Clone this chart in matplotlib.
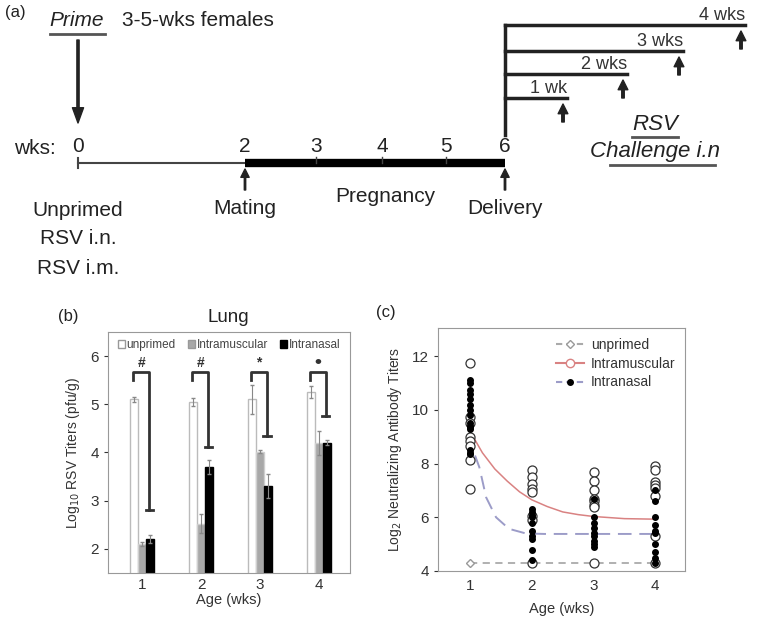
import matplotlib
matplotlib.use('Agg')
import matplotlib.pyplot as plt
from matplotlib.lines import Line2D
from matplotlib.patches import Patch
import numpy as np

plt.rcParams['font.family'] = ['Liberation Sans', 'DejaVu Sans']

# ── data ──────────────────────────────────────────────────────────
# (a) timeline
week_labels = ['0', '2', '3', '4', '5', '6']
challenge_labels = ['1 wk', '2 wks', '3 wks', '4 wks']
prime_groups = ['Unprimed', 'RSV i.n.', 'RSV i.m.']

# (b) lung RSV titers
ages = [1, 2, 3, 4]
lung_unprimed = [5.10, 5.05, 5.10, 5.25]
lung_unprimed_err = [0.05, 0.08, 0.30, 0.12]
lung_im = [2.10, 2.52, 4.02, 4.20]
lung_im_err = [0.05, 0.20, 0.03, 0.25]
lung_in = [2.20, 3.70, 3.30, 4.20]
lung_in_err = [0.08, 0.15, 0.25, 0.05]
sig_marks = ['#', '#', '*', '•']
sig_low = [2.80, 4.12, 4.34, 4.76]

# (c) neutralizing antibody titers
im_pts = {
    1: [11.75, 9.75, 9.5, 9.0, 8.85, 8.65, 8.15, 7.05],
    2: [7.75, 7.5, 7.25, 7.05, 6.95, 6.05, 5.9, 4.3],
    3: [7.7, 7.35, 7.0, 6.7, 6.6, 6.45, 6.4, 4.3],
    4: [7.9, 7.75, 7.3, 7.2, 7.1, 6.8, 5.3, 4.3],
}
in_pts = {
    1: [11.1, 11.0, 10.75, 10.6, 10.4, 10.2, 10.0, 9.8, 9.5, 9.4, 9.35, 9.3, 8.5, 8.4, 8.35],
    2: [6.3, 6.2, 6.1, 6.0, 5.8, 5.5, 5.3, 5.2, 4.8, 4.4],
    3: [6.7, 6.0, 5.8, 5.6, 5.4, 5.3, 5.1, 5.0, 4.9],
    4: [7.0, 6.6, 6.0, 5.7, 5.5, 5.4, 5.0, 4.7, 4.5, 4.3],
}
unprimed_nab = [4.3, 4.3, 4.3, 4.3]
im_fit_x = [1.05, 1.2, 1.4, 1.6, 1.8, 2.0, 2.25, 2.5, 2.75, 3.0, 3.5, 4.0]
im_fit_y = [9.0, 8.4, 7.8, 7.35, 6.95, 6.65, 6.4, 6.2, 6.1, 6.03, 5.95, 5.93]
in_fit_x = [1.08, 1.15, 1.26, 1.42, 1.63, 1.9, 2.2, 2.6, 3.0, 3.5, 4.0]
in_fit_y = [8.3, 7.86, 6.74, 6.0, 5.57, 5.4, 5.38, 5.38, 5.38, 5.38, 5.38]

# ── figure ────────────────────────────────────────────────────────
fig = plt.figure(figsize=(7.6, 6.26), dpi=100, facecolor='white')
ink = '#222222'


def arrow(ax, x0, y0, x1, y1, width=2.0, head_w=8, head_l=8):
    ax.annotate('', xy=(x1, y1), xytext=(x0, y0),
                arrowprops=dict(width=width, headwidth=head_w, headlength=head_l,
                                facecolor=ink, edgecolor=ink, shrink=0))


# (a) schematic, drawn in pixel coordinates
axa = fig.add_axes([0, 0, 1, 1])
axa.set_xlim(0, 760)
axa.set_ylim(626, 0)
axa.axis('off')

wk_x = [78, 245, 316, 382, 446, 505]
tl_y = 163
axa.text(5, 13, '(a)', fontsize=12, color=ink, va='center')
axa.text(77, 20, 'Prime', fontsize=15, style='italic', color=ink, ha='center', va='center')
axa.plot([50, 105], [34, 34], color='#555555', lw=2)
axa.text(122, 20, '3-5-wks females', fontsize=15, color=ink, va='center')
arrow(axa, wk_x[0], 40, wk_x[0], 123, width=1.6, head_w=8, head_l=11)

axa.text(14, 148, 'wks:', fontsize=15, color=ink, va='center')
for lab, x in zip(week_labels, wk_x):
    axa.text(x, 147, lab, fontsize=15, color=ink, ha='center', va='center')
axa.plot([wk_x[0], wk_x[1]], [tl_y, tl_y], color='#444444', lw=1.5)
axa.plot([wk_x[0], wk_x[0]], [tl_y - 5, tl_y + 5], color='#444444', lw=1.5)
axa.plot([wk_x[1], wk_x[5]], [tl_y, tl_y], color='black', lw=6, solid_capstyle='butt')
for x in wk_x[2:5]:
    axa.plot([x, x], [tl_y - 6, tl_y], color='#444444', lw=1)

for x, lab in [(wk_x[1], 'Mating'), (wk_x[5], 'Delivery')]:
    arrow(axa, x, 190, x, 169, width=1.0, head_w=6, head_l=6)
    axa.text(x, 209, lab, fontsize=15, color=ink, ha='center', va='center')
axa.text(385, 197, 'Pregnancy', fontsize=15, color=ink, ha='center', va='center')
for i, g in enumerate(prime_groups):
    axa.text(wk_x[0], 210 + 29 * i, g, fontsize=15, color=ink, ha='center', va='center')

# challenge branches
br_y = [98, 74, 51, 25]
br_end = [567, 627, 683, 745]
axa.plot([wk_x[5], wk_x[5]], [br_y[-1], 135], color=ink, lw=2.5)
for lab, y, xe in zip(challenge_labels, br_y, br_end):
    axa.plot([wk_x[5], xe], [y, y], color=ink, lw=2.5)
    axa.text(xe, y - 1, lab, fontsize=13, color='#333333', ha='right', va='bottom')
    arrow(axa, xe - 4, y + 24, xe - 4, y + 6, width=1.8, head_w=7, head_l=7)
axa.text(655, 124, 'RSV', fontsize=16, style='italic', color=ink, ha='center', va='center')
axa.plot([632, 678], [137, 137], color='#555555', lw=2)
axa.text(655, 151, 'Challenge i.n', fontsize=16, style='italic', color=ink, ha='center', va='center')
axa.plot([610, 715], [165, 165], color='#555555', lw=2)

axa.text(68, 316, '(b)', fontsize=12, color=ink, ha='center', va='center')
axa.text(228, 318, 'Lung', fontsize=13.5, color=ink, ha='center', va='center')
axa.text(386, 313, '(c)', fontsize=12, color=ink, ha='center', va='center')

# (b) lung titers
axb = fig.add_axes([108 / 760, 53 / 626, 242 / 760, 241 / 626])
x = np.array(ages, dtype=float)
w = 0.135
kw = dict(ecolor='#888888', capsize=1.5, error_kw=dict(lw=0.8))
axb.bar(x - 0.14, lung_unprimed, w, yerr=lung_unprimed_err,
        color='white', edgecolor='#bbbbbb', lw=1, **kw)
axb.bar(x, lung_im, w, yerr=lung_im_err, color='#a8a8a8', edgecolor='#cfcfcf', lw=1, **kw)
axb.bar(x + 0.14, lung_in, w, yerr=lung_in_err, color='black', edgecolor='black', lw=1, **kw)
for xi, lo, mk in zip(x, sig_low, sig_marks):
    xl, xr = xi - 0.15, xi + 0.12
    axb.plot([xl, xl, xr, xr], [5.5, 5.67, 5.67, lo], color='#333333', lw=2)
    axb.plot([xr - 0.06, xr + 0.06], [lo, lo], color='#333333', lw=2)
    axb.text((xl + xr) / 2, 5.86, mk, fontsize=10 if mk != '•' else 14, color='#333333',
             ha='center', va='center', fontweight='bold')
axb.set_xlim(0.42, 4.53)
axb.set_ylim(1.5, 6.5)
axb.set_yticks([2, 3, 4, 5, 6])
axb.set_xticks(ages)
axb.tick_params(labelsize=11, colors='#333333', length=3, direction='out')
axb.tick_params(axis='x', length=0)
for s in axb.spines.values():
    s.set_color('#999999')
axb.set_ylabel('Log$_{10}$ RSV Titers (pfu/g)', fontsize=10, color='#333333', labelpad=6)
axb.set_xlabel('Age (wks)', fontsize=10.5, color='#333333', labelpad=1)
hb = [Patch(facecolor='white', edgecolor='#999999', label='unprimed'),
      Patch(facecolor='#a8a8a8', edgecolor='#999999', label='Intramuscular'),
      Patch(facecolor='black', edgecolor='black', label='Intranasal')]
axb.legend(handles=hb, ncol=3, loc='upper center', frameon=False, fontsize=8.5,
           handlelength=0.6, handleheight=0.6, handletextpad=0.15, columnspacing=1.0,
           borderaxespad=0.2, labelcolor='#444444', bbox_to_anchor=(0.5, 1.0))

# (c) neutralizing antibody titers
axc = fig.add_axes([438 / 760, 55 / 626, 247 / 760, 243 / 626])
axc.plot(ages, unprimed_nab, color='#aaaaaa', ls=(0, (4, 3)), lw=1.3, marker='D',
         ms=4.5, mfc='white', mec='#999999', zorder=2)
axc.plot(in_fit_x, in_fit_y, color='#9c9cc8', ls=(0, (7, 4)), lw=1.4, zorder=2)
axc.plot(im_fit_x, im_fit_y, color='#d98282', lw=1.1, zorder=2)
for a in ages:
    axc.plot([a] * len(im_pts[a]), im_pts[a], ls='none', marker='o', ms=6.5,
             mfc='white', mec='#333333', mew=0.9, zorder=3)
    axc.plot([a] * len(in_pts[a]), in_pts[a], ls='none', marker='o', ms=4,
             mfc='black', mec='black', zorder=4)
axc.set_xlim(0.48, 4.48)
axc.set_ylim(4, 13.05)
axc.set_xticks(ages)
axc.set_yticks([4, 6, 8, 10, 12])
axc.tick_params(labelsize=11, colors='#333333', length=3)
axc.tick_params(axis='x', length=0, pad=6)
for s in axc.spines.values():
    s.set_color('#999999')
axc.set_ylabel('Log$_2$ Neutralizing Antibody Titers', fontsize=10, color='#333333', labelpad=6)
axc.set_xlabel('Age (wks)', fontsize=10.5, color='#333333', labelpad=6)
hc = [Line2D([], [], color='#aaaaaa', ls=(0, (3, 2)), marker='D', ms=4.5, mfc='white',
             mec='#999999', label='unprimed'),
      Line2D([], [], color='#d98282', marker='o', ms=6, mfc='white', mec='#d98282',
             label='Intramuscular'),
      Line2D([], [], color='#9c9cc8', ls=(0, (3, 2)), marker='o', ms=4, mfc='black',
             mec='black', label='Intranasal')]
axc.legend(handles=hc, loc='upper right', frameon=False, fontsize=10, handlelength=2.0,
           handletextpad=0.5, labelspacing=0.35, borderaxespad=0.3, labelcolor='#333333')

fig.savefig('out.png', dpi=100, facecolor='white')
